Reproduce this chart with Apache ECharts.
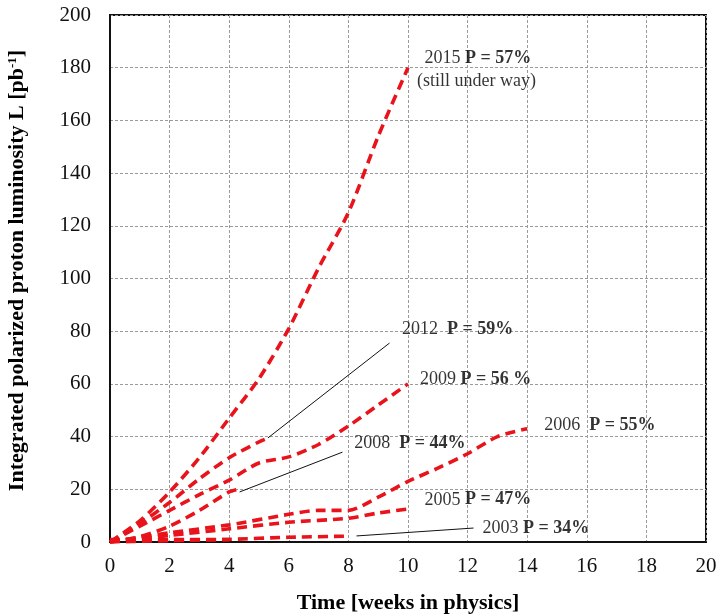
<!DOCTYPE html>
<html lang="en">
<head>
  <meta charset="UTF-8">
  <title>Polarized proton luminosity</title>
  <style>
    html, body { margin: 0; padding: 0; background: #fff; }
    #chart { width: 719px; height: 615px; }
  </style>
  <script src="https://cdn.jsdelivr.net/npm/echarts@6/dist/echarts.min.js"></script>
</head>
<body>
  <div id="chart"></div>
  <script>
    // integrated luminosity per run, [week, pb^-1]
    var run2003 = [[0, 0], [2, 0.5], [4, 1], [6, 1.8], [8, 2.2]];
    var run2005 = [[0, 0], [2, 2.5], [4, 5], [6, 7.5], [8, 9], [9, 11], [10, 12.5]];
    var run2006 = [[0, 0], [2, 3.5], [4, 6.5], [6, 10.5], [7, 12], [8, 12], [9, 17], [10, 23], [11, 28], [12, 33.5], [13, 40], [14, 43]];
    var run2008 = [[0, 0], [1, 2], [2, 6], [3, 12], [4, 19], [4.3, 20]];
    var run2009 = [[0, 0], [1, 6], [2, 12], [3, 18], [4, 23.5], [5, 30], [6, 32.3], [7, 37], [8, 44], [9, 52], [10, 60]];
    var run2012 = [[0, 0], [1, 7], [2, 15], [3, 24], [4, 32], [5, 38], [5.2, 39]];
    var run2015 = [[0, 0], [1, 8], [2, 19], [3, 32], [4, 47], [5, 62], [6, 81], [7, 104], [8, 125], [9, 154], [10, 180]];
    var runEarly = [[0, 0.9], [4, 0.9]];

    // labels: year, polarization, anchor point
    var labelYears = ['2003', '2005', '2006', '2008', '2009', '2012', '2015'];
    var labelPol = ['P = 34%', 'P = 47%', 'P = 55%', 'P = 44%', 'P = 56 %', 'P = 59%', 'P = 57%'];
    var labelGap = [' ', ' ', '  ', '  ', ' ', '  ', ' '];
    var labelAt = [[12.5, 5.3], [10.55, 16], [14.57, 44.4], [8.2, 37.6], [10.4, 61.9], [9.8, 80.8], [10.55, 183.6]];
    var noteText = '(still under way)';
    var noteAt = [10.3, 175];

    // thin leader lines from curve end to label
    var leader2003 = [[8.27, 2.3], [12.2, 5.3]];
    var leader2008 = [[4.35, 19], [7.8, 34.1]];
    var leader2012 = [[5.3, 39.5], [9.38, 75.5]];

    var xTicks = [0, 2, 4, 6, 8, 10, 12, 14, 16, 18, 20];
    var yTicks = [0, 20, 40, 60, 80, 100, 120, 140, 160, 180, 200];

    var serif = '"Liberation Serif", "DejaVu Serif", serif';
    var red = '#e8131b';

    function runSeries(name, data) {
      return {
        name: name,
        type: 'line',
        data: data,
        smooth: 0.25,
        symbol: 'none',
        lineStyle: { color: red, width: 3.6, type: [10, 6] },
        z: 3
      };
    }

    function leaderSeries(data) {
      return {
        type: 'line',
        data: data,
        symbol: 'none',
        lineStyle: { color: '#111', width: 1 },
        z: 2
      };
    }

    var labelData = labelYears.map(function (y, i) {
      return { value: labelAt[i], year: y, pol: labelPol[i], gap: labelGap[i] };
    });

    var myChart = echarts.init(document.getElementById('chart'));

    var option = {
      animation: false,
      grid: {
        left: 110, right: 13, top: 15, bottom: 73,
        outerBoundsMode: 'none',
        show: true, borderColor: '#111', borderWidth: 2
      },
      xAxis: {
        type: 'value',
        min: xTicks[0], max: xTicks[xTicks.length - 1], interval: 2,
        name: 'Time [weeks in physics]',
        nameLocation: 'middle',
        nameGap: 50,
        nameTextStyle: { fontFamily: serif, fontSize: 22, fontWeight: 'bold', color: '#000' },
        axisLine: { lineStyle: { color: '#111', width: 2 } },
        axisTick: { show: false },
        axisLabel: { fontFamily: serif, fontSize: 21, color: '#111', margin: 14 },
        splitLine: { lineStyle: { color: '#9a9a9a', width: 1, type: [3, 2] } }
      },
      yAxis: {
        type: 'value',
        min: yTicks[0], max: yTicks[yTicks.length - 1], interval: 20,
        name: 'Integrated polarized proton luminosity L [pb{sup|-1}]',
        nameLocation: 'middle',
        nameGap: 81,
        nameTextStyle: {
          fontFamily: serif, fontSize: 22, fontWeight: 'bold', color: '#000',
          padding: [0, 0, 0, 16],
          rich: {
            sup: { fontFamily: serif, fontSize: 13, fontWeight: 'bold', color: '#000', padding: [0, 0, 10, 0] }
          }
        },
        axisLine: { lineStyle: { color: '#111', width: 2 } },
        axisTick: { show: false },
        axisLabel: { fontFamily: serif, fontSize: 21, color: '#111', margin: 19 },
        splitLine: { lineStyle: { color: '#9a9a9a', width: 1, type: [3, 2] } }
      },
      series: [
        runSeries('early', runEarly),
        runSeries('2003', run2003),
        runSeries('2005', run2005),
        runSeries('2006', run2006),
        runSeries('2008', run2008),
        runSeries('2009', run2009),
        runSeries('2012', run2012),
        runSeries('2015', run2015),
        leaderSeries(leader2003),
        leaderSeries(leader2008),
        leaderSeries(leader2012),
        {
          type: 'scatter',
          data: labelData,
          symbolSize: 0,
          z: 5,
          label: {
            show: true,
            position: 'right',
            distance: 0,
            color: '#000',
            formatter: function (p) {
              return '{y|' + p.data.year + p.data.gap + '}{p|' + p.data.pol + '}';
            },
            rich: {
              y: { fontFamily: serif, fontSize: 18, color: '#000' },
              p: { fontFamily: serif, fontSize: 18, fontWeight: 'bold', color: '#000' }
            }
          }
        },
        {
          type: 'scatter',
          data: [noteAt],
          symbolSize: 0,
          z: 5,
          label: {
            show: true,
            position: 'right',
            distance: 0,
            formatter: noteText,
            fontFamily: serif, fontSize: 18, color: '#000'
          }
        }
      ]
    };

    myChart.setOption(option);
  </script>
</body>
</html>
